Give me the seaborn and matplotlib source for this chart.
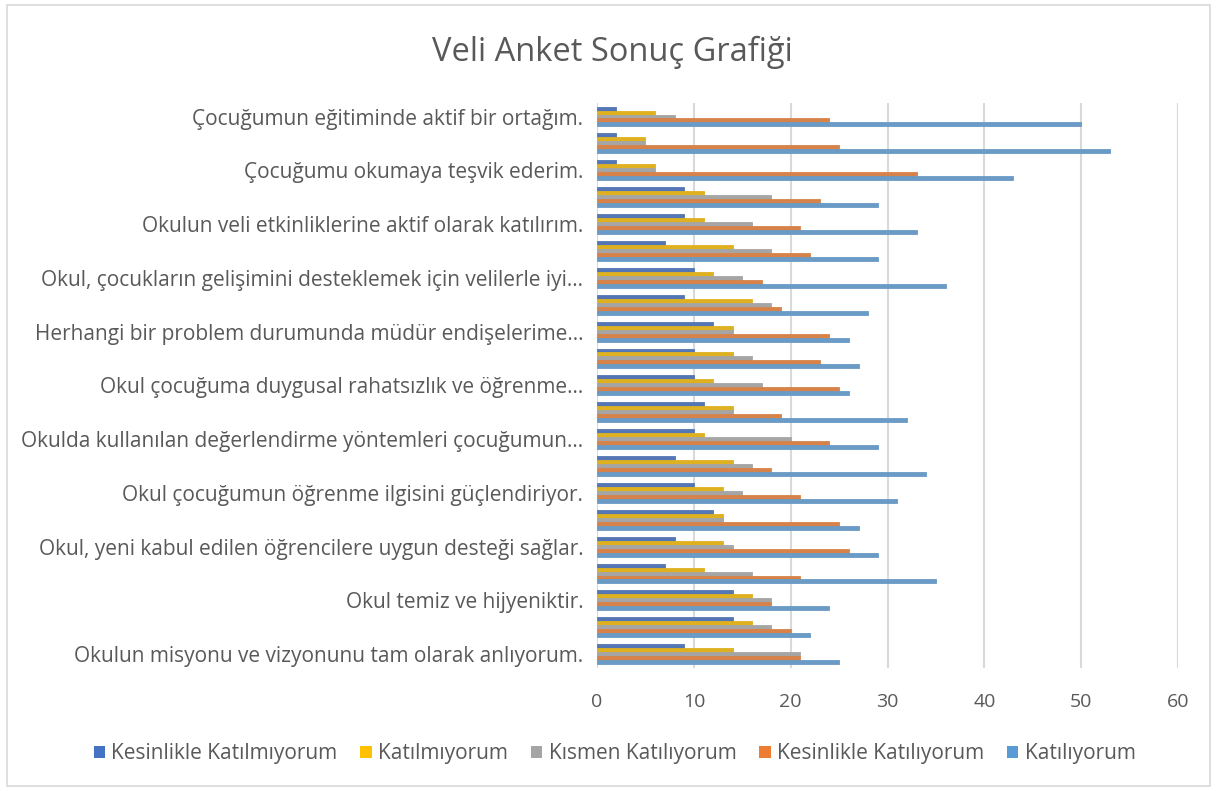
import numpy as np
import pandas as pd
import matplotlib.pyplot as plt
from matplotlib.patches import Patch, Rectangle
import seaborn as sns

# Categories top to bottom (only every other label is shown, as in the original)
etiketler = [
    "Çocuğumun eğitiminde aktif bir ortağım.", "",
    "Çocuğumu okumaya teşvik ederim.", "",
    "Okulun veli etkinliklerine aktif olarak katılırım.", "",
    "Okul, çocukların gelişimini desteklemek için velilerle iyi…", "",
    "Herhangi bir problem durumunda müdür endişelerime…", "",
    "Okul çocuğuma duygusal rahatsızlık ve öğrenme…", "",
    "Okulda kullanılan değerlendirme yöntemleri çocuğumun…", "",
    "Okul çocuğumun öğrenme ilgisini güçlendiriyor.", "",
    "Okul, yeni kabul edilen öğrencilere uygun desteği sağlar.", "",
    "Okul temiz ve hijyeniktir.", "",
    "Okulun misyonu ve vizyonunu tam olarak anlıyorum.",
]
maddeler = [f"M{i + 1}" for i in range(len(etiketler))]

kesinlikle_katilmiyorum = [2, 2, 2, 9, 9, 7, 10, 9, 12, 10, 10, 11, 10, 8, 10, 12, 8, 7, 14, 14, 9]
katilmiyorum = [6, 5, 6, 11, 11, 14, 12, 16, 14, 14, 12, 14, 11, 14, 13, 13, 13, 11, 16, 16, 14]
kismen_katiliyorum = [8, 5, 6, 18, 16, 18, 15, 18, 14, 16, 17, 14, 20, 16, 15, 13, 14, 16, 18, 18, 21]
kesinlikle_katiliyorum = [24, 25, 33, 23, 21, 22, 17, 19, 24, 23, 25, 19, 24, 18, 21, 25, 26, 21, 18, 20, 21]
katiliyorum = [50, 53, 43, 29, 33, 29, 36, 28, 26, 27, 26, 32, 29, 34, 31, 27, 29, 35, 24, 22, 25]

seriler = ["Kesinlikle Katılmıyorum", "Katılmıyorum", "Kısmen Katılıyorum",
           "Kesinlikle Katılıyorum", "Katılıyorum"]
renkler = ["#4472C4", "#FFC000", "#A5A5A5", "#ED7D31", "#5B9BD5"]

degerler = [kesinlikle_katilmiyorum, katilmiyorum, kismen_katiliyorum,
            kesinlikle_katiliyorum, katiliyorum]
df = pd.DataFrame({
    "madde": maddeler * len(seriler),
    "seri": np.repeat(seriler, len(maddeler)),
    "deger": np.concatenate(degerler),
})

sns.set_style("white")
plt.rcParams["font.family"] = ["Open Sans", "DejaVu Sans"]

fig = plt.figure(figsize=(12.17, 7.91), dpi=100)
ax = fig.add_axes([0.4906, 0.156, 0.4774, 0.7137])

sns.barplot(data=df, y="madde", x="deger", hue="seri", order=maddeler,
            hue_order=seriler, palette=renkler, orient="h", width=0.74,
            linewidth=0, legend=False, ax=ax)
# thin same-colour edge so neighbouring bars touch like in Excel
for p in ax.patches:
    p.set_edgecolor(p.get_facecolor())
    p.set_linewidth(0.6)

ax.set_xlim(0, 60)
ax.set_ylim(len(maddeler) - 0.5, -0.5)
ax.set_xticks(range(0, 61, 10))
ax.xaxis.grid(True, color="#D9D9D9", linewidth=1.5)
ax.set_axisbelow(True)
for s in ax.spines.values():
    s.set_visible(False)
ax.set_yticks(range(len(maddeler)))
ax.set_yticklabels(etiketler)
ax.tick_params(axis="y", length=0, pad=10, labelsize=15, labelcolor="#595959")
ax.tick_params(axis="x", length=0, pad=18, labelsize=14, labelcolor="#595959")
ax.set_xlabel("")
ax.set_ylabel("")

fig.suptitle("Veli Anket Sonuç Grafiği", x=0.503, y=0.955, fontsize=23.5, color="#595959")

handles = [Patch(facecolor=c, edgecolor="none") for c in renkler]
fig.legend(handles, seriler, loc="center", bbox_to_anchor=(0.505, 0.047), ncol=5,
           frameon=False, fontsize=15, labelcolor="#595959",
           handlelength=0.55, handleheight=0.55, handletextpad=0.3, columnspacing=1.1)

fig.patches.append(Rectangle((0.006, 0.006), 0.988, 0.988, transform=fig.transFigure,
                             fill=False, edgecolor="#D9D9D9", linewidth=1.2))

fig.savefig("out.png", dpi=100)
